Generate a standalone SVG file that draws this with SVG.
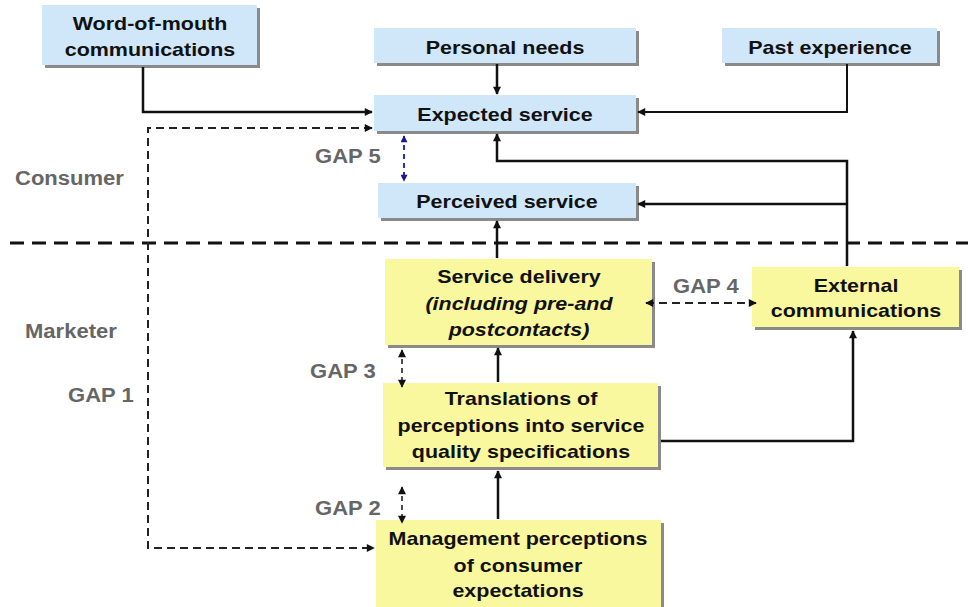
<svg xmlns="http://www.w3.org/2000/svg" width="968" height="607" viewBox="0 0 968 607">
<style>
.blue{fill:#cfe7f8}
.yel{fill:#f9f89e}
.sh{fill:#8a8a8a}
.t{font-family:"Liberation Sans",Arial,sans-serif;font-weight:bold;font-size:19px;fill:#111;text-anchor:middle}
.ti{font-style:italic}
.lab{font-family:"Liberation Sans",Arial,sans-serif;font-weight:bold;font-size:19.5px;fill:#666}
.c{fill:none;stroke:#111;stroke-width:2.5}
.d{fill:none;stroke:#222;stroke-width:2;stroke-dasharray:8 5}
.gd{fill:none;stroke:#222;stroke-width:1.6;stroke-dasharray:5 4}
</style>
<defs>
<marker id="ah" viewBox="0 0 10 10" refX="9" refY="5" markerWidth="9" markerHeight="8" markerUnits="userSpaceOnUse" orient="auto-start-reverse"><path d="M0,0 L10,5 L0,10 z" fill="#111"/></marker>
<marker id="ahb" viewBox="0 0 10 10" refX="9" refY="5" markerWidth="8" markerHeight="7" markerUnits="userSpaceOnUse" orient="auto-start-reverse"><path d="M0,0 L10,5 L0,10 z" fill="#1a1a8a"/></marker>
</defs>

<line x1="10" y1="243" x2="968" y2="243" stroke="#111" stroke-width="3" stroke-dasharray="14 8"/>

<g id="labels">
<text class="lab" transform="translate(15 185) scale(1.13 1)">Consumer</text>
<text class="lab" transform="translate(25 338) scale(1.13 1)">Marketer</text>
<text class="lab" transform="translate(315 163) scale(1.13 1)">GAP 5</text>
<text class="lab" transform="translate(68 402) scale(1.13 1)">GAP 1</text>
<text class="lab" transform="translate(310 378) scale(1.13 1)">GAP 3</text>
<text class="lab" transform="translate(315 515) scale(1.13 1)">GAP 2</text>
<text class="lab" transform="translate(673 293) scale(1.13 1)">GAP 4</text>
</g>

<g id="wom">
<rect class="sh" x="45" y="8" width="215" height="60"/>
<rect class="blue" x="42" y="5" width="215" height="60"/>
<g transform="translate(150 0) scale(1.13 1)"><text class="t" x="0" y="30">Word-of-mouth</text><text class="t" x="0" y="56">communications</text></g>
</g>

<g id="personal">
<rect class="sh" x="377" y="31" width="262" height="35"/>
<rect class="blue" x="374" y="28" width="262" height="35"/>
<g transform="translate(505 0) scale(1.13 1)"><text class="t" x="0" y="54">Personal needs</text></g>
</g>

<g id="past">
<rect class="sh" x="725" y="31" width="215" height="35"/>
<rect class="blue" x="722" y="28" width="215" height="35"/>
<g transform="translate(830 0) scale(1.13 1)"><text class="t" x="0" y="54">Past experience</text></g>
</g>

<g id="expected">
<rect class="sh" x="377" y="98" width="262" height="36"/>
<rect class="blue" x="374" y="95" width="262" height="36"/>
<g transform="translate(505 0) scale(1.13 1)"><text class="t" x="0" y="121">Expected service</text></g>
</g>

<g id="perceived">
<rect class="sh" x="381" y="186" width="258" height="35"/>
<rect class="blue" x="378" y="183" width="258" height="35"/>
<g transform="translate(507 0) scale(1.13 1)"><text class="t" x="0" y="208">Perceived service</text></g>
</g>

<g id="delivery">
<rect class="sh" x="388" y="262" width="267" height="86"/>
<rect class="yel" x="385" y="259" width="267" height="86"/>
<g transform="translate(519 0) scale(1.13 1)"><text class="t" x="0" y="283">Service delivery</text><text class="t ti" x="0" y="310">(including pre-and</text><text class="t ti" x="0" y="336">postcontacts)</text></g>
</g>

<g id="external">
<rect class="sh" x="755" y="270" width="207" height="60"/>
<rect class="yel" x="752" y="267" width="207" height="60"/>
<g transform="translate(856 0) scale(1.13 1)"><text class="t" x="0" y="292">External</text><text class="t" x="0" y="317">communications</text></g>
</g>

<g id="translations">
<rect class="sh" x="386" y="386" width="275" height="84"/>
<rect class="yel" x="383" y="383" width="275" height="84"/>
<g transform="translate(521 0) scale(1.13 1)"><text class="t" x="0" y="405">Translations of</text><text class="t" x="0" y="432">perceptions into service</text><text class="t" x="0" y="458">quality specifications</text></g>
</g>

<g id="management">
<rect class="sh" x="379" y="523" width="285" height="87"/>
<rect class="yel" x="376" y="520" width="285" height="87"/>
<g transform="translate(518 0) scale(1.13 1)"><text class="t" x="0" y="545">Management perceptions</text><text class="t" x="0" y="572">of consumer</text><text class="t" x="0" y="597">expectations</text></g>
</g>

<g id="connectors">
<path class="c" d="M143 67 V112 H372" marker-end="url(#ah)"/>
<path class="d" d="M372 128 H148 V548 H374" marker-start="url(#ah)" marker-end="url(#ah)"/>
<path class="c" d="M497 64 V94" marker-end="url(#ah)"/>
<path class="c" style="stroke-width:2" d="M847 64 V112 H638" marker-end="url(#ah)"/>
<path class="c" d="M847 266 V161 H497 V134" marker-end="url(#ah)"/>
<path class="c" d="M847 204 H638" marker-end="url(#ah)"/>
<path class="c" d="M497 258 V221" marker-end="url(#ah)"/>
<path class="c" d="M498 382 V348" marker-end="url(#ah)"/>
<path class="c" d="M498 519 V471" marker-end="url(#ah)"/>
<path class="c" d="M661 441 H853 V331" marker-end="url(#ah)"/>
<path class="d" d="M646 303 H756" marker-start="url(#ah)" marker-end="url(#ah)"/>
<path style="fill:none;stroke:#1a1a8a;stroke-width:1.8;stroke-dasharray:5 4" d="M404 136 V181" marker-start="url(#ahb)" marker-end="url(#ahb)"/>
<path class="gd" d="M402 350 V387" marker-start="url(#ah)" marker-end="url(#ah)"/>
<path class="gd" d="M402 487 V523" marker-start="url(#ah)" marker-end="url(#ah)"/>
</g>
</svg>
